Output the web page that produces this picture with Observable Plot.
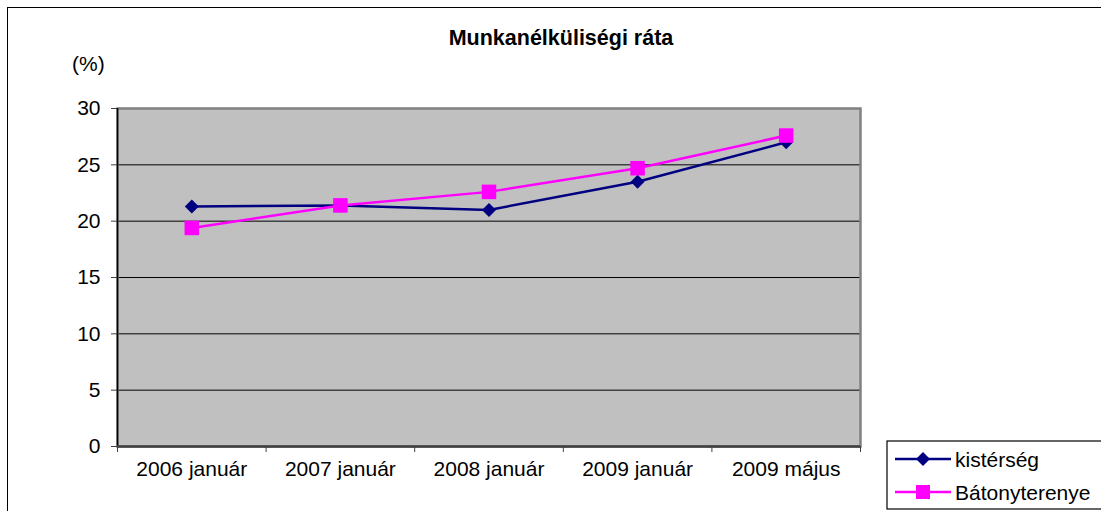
<!DOCTYPE html>
<html>
<head>
<meta charset="utf-8">
<script src="https://cdn.jsdelivr.net/npm/d3@7"></script>
<script src="https://cdn.jsdelivr.net/npm/@observablehq/plot@0.6"></script>
<style>
  html, body { margin: 0; padding: 0; background: #fff; }
  #wrap { position: relative; width: 1101px; height: 511px; overflow: hidden; font-family: "Liberation Sans", Arial, sans-serif; }
  #wrap > svg { position: absolute; left: 0; top: 0; }
  #border { position: absolute; left: 7px; top: 7px; width: 1200px; height: 600px; border: 1.5px solid #000; box-sizing: border-box; }
</style>
</head>
<body>
<div id="wrap"><div id="border"></div></div>
<script>
const title = "Munkanélküliségi ráta";
const yLabel = "(%)";
const categories = ["2006 január", "2007 január", "2008 január", "2009 január", "2009 május"];
const kisterseg = [21.3, 21.4, 21.0, 23.5, 27.0];
const batonyterenye = [19.4, 21.4, 22.6, 24.7, 27.6];
const yTicks = [0, 5, 10, 15, 20, 25, 30];
const seriesNames = ["kistérség", "Bátonyterenye"];
const seriesColors = ["#000080", "#FF00FF"];

const toRows = (vals, s) => vals.map((v, i) => ({i, v, s}));
const rowsK = toRows(kisterseg, seriesNames[0]);
const rowsB = toRows(batonyterenye, seriesNames[1]);
const indices = categories.map((_, i) => i);
const boundaries = categories.map((_, i) => i - 0.5).concat([categories.length - 0.5]);

const chart = Plot.plot({
  width: 1101,
  height: 511,
  marginLeft: 117,
  marginRight: 241,
  marginTop: 108,
  marginBottom: 65,
  style: {fontFamily: "'Liberation Sans', Arial, sans-serif", fontSize: "21px", color: "#000", background: "transparent", overflow: "visible"},
  x: {type: "linear", domain: [-0.5, categories.length - 0.5]},
  y: {domain: [0, 30]},
  marks: [
    Plot.frame({fill: "#c0c0c0", stroke: null}),
    Plot.gridY({ticks: yTicks, stroke: "#000", strokeOpacity: 1, strokeWidth: 1}),
    Plot.frame({stroke: "#808080", strokeWidth: 2.5, fill: "none"}),
    Plot.ruleX([boundaries[0]], {stroke: "#000", strokeWidth: 1.5}),
    Plot.ruleY([0], {stroke: "#404040", strokeWidth: 2.5}),
    Plot.axisY({ticks: yTicks, tickSize: 6, tickPadding: 11, stroke: "#404040", label: null, fontSize: 21}),
    Plot.axisX({ticks: boundaries, tickSize: 6, tickFormat: () => "", stroke: "#404040", label: null}),
    Plot.axisX({ticks: indices, tickSize: 0, tickPadding: 15, tickFormat: i => categories[i], label: null, fontSize: 21}),
    Plot.line(rowsK, {x: "i", y: "v", stroke: seriesColors[0], strokeWidth: 2.5}),
    Plot.dot(rowsK, {x: "i", y: "v", symbol: "diamond2", r: 6.3, fill: seriesColors[0], stroke: "none"}),
    Plot.line(rowsB, {x: "i", y: "v", stroke: seriesColors[1], strokeWidth: 2.5}),
    Plot.dot(rowsB, {x: "i", y: "v", symbol: "square", r: 8.2, fill: seriesColors[1], stroke: "none"})
  ]
});
const wrap = document.getElementById("wrap");
wrap.appendChild(chart);

// Overlay: title, unit label, legend
const ns = "http://www.w3.org/2000/svg";
const ov = document.createElementNS(ns, "svg");
ov.setAttribute("width", 1101);
ov.setAttribute("height", 511);
ov.style.fontFamily = "'Liberation Sans', Arial, sans-serif";
function el(tag, attrs, text) {
  const e = document.createElementNS(ns, tag);
  for (const k in attrs) e.setAttribute(k, attrs[k]);
  if (text != null) e.textContent = text;
  ov.appendChild(e);
  return e;
}
el("text", {x: 561, y: 45, "text-anchor": "middle", "font-size": 21.5, "font-weight": "bold"}, title);
el("text", {x: 72, y: 71, "font-size": 21}, yLabel);
el("rect", {x: 887, y: 441, width: 300, height: 68, fill: "#fff", stroke: "#000", "stroke-width": 1.2});
const rowY = [459, 492];
seriesNames.forEach((name, k) => {
  const y = rowY[k];
  el("line", {x1: 895, x2: 951, y1: y, y2: y, stroke: seriesColors[k], "stroke-width": 2.5});
  if (k === 0) {
    el("path", {d: `M923,${y - 7}L930,${y}L923,${y + 7}L916,${y}Z`, fill: seriesColors[k]});
  } else {
    el("rect", {x: 916, y: y - 7, width: 14, height: 14, fill: seriesColors[k]});
  }
  el("text", {x: 955, y: y + 7.5, "font-size": 21}, name);
});
wrap.appendChild(ov);
</script>
</body>
</html>
